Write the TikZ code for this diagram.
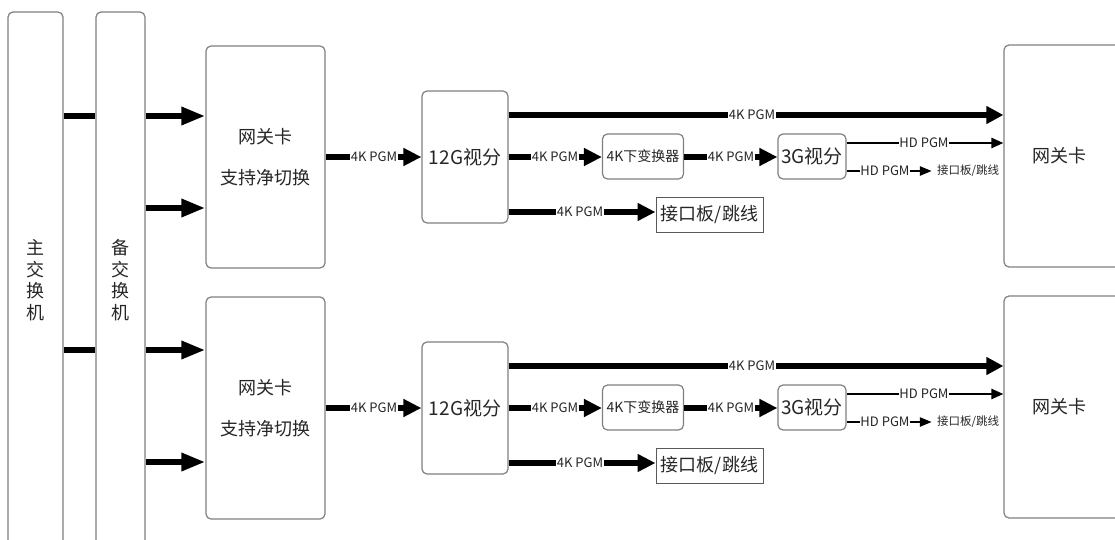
\documentclass[tikz,border=0pt]{standalone}
\usepackage{fontspec}
\setmainfont{Noto Sans CJK SC}
\usetikzlibrary{arrows.meta}
\begin{document}
\begin{tikzpicture}[x=1pt,y=-1pt,
  rbox/.style={draw=black!50, line width=1.2pt, rounded corners=5pt, inner sep=0pt, align=center, text=black!85},
  sqbox/.style={draw=black!65, line width=1pt, inner sep=0pt, text=black!85},
  bigarrow/.style={line width=6pt, -{Triangle[length=24pt,width=17pt]}},
  medarrow/.style={line width=6pt, -{Triangle[length=18pt,width=17pt]}},
  longarrow/.style={line width=6pt, -{Triangle[length=17pt,width=17pt]}},
  thinarrow/.style={line width=2.5pt, -{Triangle[length=12pt,width=10pt]}},
  smallarrow/.style={line width=2.5pt, -{Triangle[length=12pt,width=9pt]}},
  plainline/.style={line width=6pt},
  lbl/.style={fill=white, inner sep=0.6pt, text=black!85, font=\fontsize{13}{13}\selectfont},
]
\useasboundingbox (0,0) rectangle (1115,540);
\fill[white] (0,0) rectangle (1115,540);

% switches
\node[rbox, minimum width=55pt, minimum height=536pt, font=\fontsize{18}{21.5}\selectfont] (main) at (35.5,280) {主\\交\\换\\机};
\node[rbox, minimum width=49pt, minimum height=536pt, font=\fontsize{18}{21.5}\selectfont] (backup) at (120.5,280) {备\\交\\换\\机};

\draw[plainline] (main.east |- 0,116) -- (backup.west |- 0,116);
\draw[plainline] (main.east |- 0,350) -- (backup.west |- 0,350);

\foreach \r/\dy in {1/0,2/251}{
  \node[rbox, minimum width=119pt, minimum height=222pt, font=\fontsize{18}{41}\selectfont] (gw\r) at (265.5,{157+\dy}) {网关卡\\支持净切换};
  \node[rbox, minimum width=86pt, minimum height=132pt, font=\fontsize{19}{19}\selectfont] (vs\r) at (465,{157+\dy}) {12G视分};
  \node[rbox, minimum width=81pt, minimum height=45pt, font=\fontsize{14}{14}\selectfont] (dc\r) at (643,{156.5+\dy}) {4K下变换器};
  \node[rbox, minimum width=68pt, minimum height=45pt, font=\fontsize{19}{19}\selectfont] (ts\r) at (812,{156.5+\dy}) {3G视分};
  \node[sqbox, minimum width=107pt, minimum height=35pt, font=\fontsize{18}{18}\selectfont] (jk\r) at (709.5,{214.5+\dy}) {接口板/跳线};
  \node[rbox, minimum width=126pt, minimum height=222pt, font=\fontsize{18}{18}\selectfont] (rg\r) at (1067,{156+\dy}) {\hspace*{-4pt}网关卡\hspace*{12pt}};
  \node[inner sep=0pt, text=black!85, font=\fontsize{11.5}{11.5}\selectfont] (ho\r) at (968,{171+\dy}) {接口板/跳线};

  \draw[medarrow] (gw\r.east |- 0,{157+\dy}) -- (vs\r.west |- 0,{157+\dy});
  \draw[longarrow] (vs\r.east |- 0,{115+\dy}) -- (rg\r.west |- 0,{115+\dy});
  \draw[medarrow] (vs\r.east |- 0,{157+\dy}) -- (dc\r.west |- 0,{157+\dy});
  \draw[medarrow] (dc\r.east |- 0,{157+\dy}) -- (ts\r.west |- 0,{157+\dy});
  \draw[medarrow] (vs\r.east |- 0,{212+\dy}) -- (jk\r.west |- 0,{212+\dy});
  \draw[thinarrow] (ts\r.east |- 0,{143+\dy}) -- (rg\r.west |- 0,{143+\dy});
  \draw[smallarrow] (ts\r.east |- 0,{171+\dy}) -- ([xshift=-5pt]ho\r.west |- 0,{171+\dy});

  \node[lbl] (l1\r) at (374,{157+\dy}) {4K PGM};
  \node[lbl] (l2\r) at (752,{115+\dy}) {4K PGM};
  \node[lbl] (l3\r) at (555,{157+\dy}) {4K PGM};
  \node[lbl] (l4\r) at (731,{157+\dy}) {4K PGM};
  \node[lbl] (l5\r) at (580,{212+\dy}) {4K PGM};
  \node[lbl] (l6\r) at (924,{143+\dy}) {HD PGM};
  \node[lbl] (l7\r) at (885,{171+\dy}) {HD PGM};
}

\draw[bigarrow] (backup.east |- 0,116) -- (gw1.west |- 0,116);
\draw[bigarrow] (backup.east |- 0,208) -- (gw1.west |- 0,208);
\draw[bigarrow] (backup.east |- 0,350) -- (gw2.west |- 0,350);
\draw[bigarrow] (backup.east |- 0,462) -- (gw2.west |- 0,462);
\end{tikzpicture}
\end{document}
